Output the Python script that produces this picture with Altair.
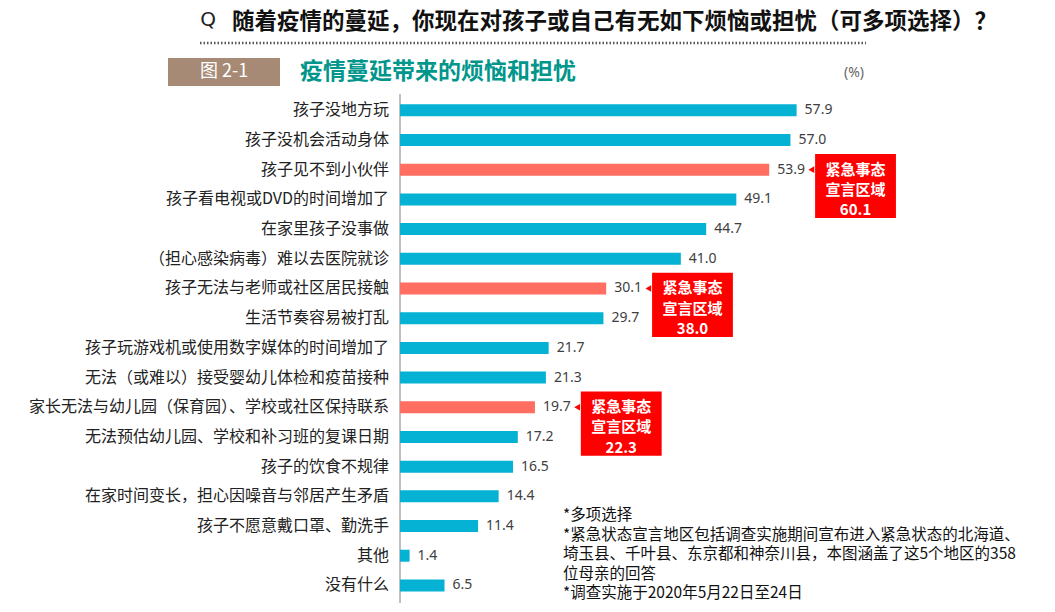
import altair as alt
import pandas as pd

# ---------------- data ----------------
categories = [
    "孩子没地方玩",
    "孩子没机会活动身体",
    "孩子见不到小伙伴",
    "孩子看电视或DVD的时间增加了",
    "在家里孩子没事做",
    "（担心感染病毒）难以去医院就诊",
    "孩子无法与老师或社区居民接触",
    "生活节奏容易被打乱",
    "孩子玩游戏机或使用数字媒体的时间增加了",
    "无法（或难以）接受婴幼儿体检和疫苗接种",
    "家长无法与幼儿园（保育园）、学校或社区保持联系",
    "无法预估幼儿园、学校和补习班的复课日期",
    "孩子的饮食不规律",
    "在家时间变长，担心因噪音与邻居产生矛盾",
    "孩子不愿意戴口罩、勤洗手",
    "其他",
    "没有什么",
]
values = [57.9, 57.0, 53.9, 49.1, 44.7, 41.0, 30.1, 29.7, 21.7, 21.3,
          19.7, 17.2, 16.5, 14.4, 11.4, 1.4, 6.5]

highlight_categories = [
    "孩子见不到小伙伴",
    "孩子无法与老师或社区居民接触",
    "家长无法与幼儿园（保育园）、学校或社区保持联系",
]
region_values = [60.1, 38.0, 22.3]
callout_lines = ["紧急事态", "宣言区域"]

title_q = "随着疫情的蔓延，你现在对孩子或自己有无如下烦恼或担忧（可多项选择）？"
fig_no = "图 2-1"
fig_title = "疫情蔓延带来的烦恼和担忧"
unit_label = "(%)"
notes = [
    "*多项选择",
    "*紧急状态宣言地区包括调查实施期间宣布进入紧急状态的北海道、",
    "埼玉县、千叶县、东京都和神奈川县，本图涵盖了这5个地区的358",
    "位母亲的回答",
    "*调查实施于2020年5月22日至24日",
]

# ---------------- layout constants ----------------
W, H = 1039, 595
PX_PER_UNIT = 6.85
X0 = 392                     # pixel of value 0
XMIN = -X0 / PX_PER_UNIT
XMAX = XMIN + W / PX_PER_UNIT
ROW_STEP = 30.2
Y0 = 99                      # pixel of first row
YMIN = -Y0 / ROW_STEP
YMAX = YMIN + H / ROW_STEP

BLUE = "#05B2D3"
SALMON = "#FF6E60"
RED = "#FF0000"
CJK = "Noto Sans CJK SC"

xs = alt.Scale(domain=[XMIN, XMAX], nice=False, zero=False)
ys = alt.Scale(domain=[YMIN, YMAX], nice=False, zero=False, reverse=True)

df = pd.DataFrame({
    "category": categories,
    "value": values,
    "row": list(range(len(categories))),
})
df["zero"] = 0.0
df["group"] = ["hl" if c in highlight_categories else "base" for c in categories]

bars = alt.Chart(df).mark_bar(orient="horizontal", size=12).encode(
    x=alt.X("value:Q", scale=xs, axis=None),
    y=alt.Y("row:Q", scale=ys, axis=None),
    color=alt.Color("group:N", scale=alt.Scale(domain=["base", "hl"], range=[BLUE, SALMON]), legend=None),
)

value_text = alt.Chart(df).mark_text(align="left", baseline="middle", dx=8, fontSize=14,
                                     font="Noto Sans", color="#404040").encode(
    x=alt.X("value:Q", scale=xs, axis=None), y=alt.Y("row:Q", scale=ys, axis=None),
    text=alt.Text("value:Q", format=".1f"),
)

cat_text = alt.Chart(df).mark_text(align="right", baseline="middle", dx=-11, fontSize=16,
                                   font=CJK, color="#222222").encode(
    x=alt.X("zero:Q", scale=xs, axis=None), y=alt.Y("row:Q", scale=ys, axis=None), text="category:N",
)

axis_df = pd.DataFrame({"x": [0.0], "y": [-0.55], "y2": [len(categories) - 0.3]})
axis_line = alt.Chart(axis_df).mark_rule(color="#808080", strokeWidth=1).encode(
    x=alt.X("x:Q", scale=xs, axis=None), y=alt.Y("y:Q", scale=ys, axis=None), y2="y2:Q",
)

# callouts
BOX_GAP = 6.7
BOX_W = 11.8
rows_hl = [categories.index(c) for c in highlight_categories]
cdf = pd.DataFrame({
    "row": rows_hl,
    "value": [values[r] for r in rows_hl],
    "region": region_values,
})
cdf["bx"] = cdf["value"] + BOX_GAP
cdf["bx2"] = cdf["bx"] + BOX_W
cdf["bc"] = cdf["bx"] + BOX_W / 2
cdf["by"] = cdf["row"] - 0.53
cdf["by2"] = cdf["row"] + 1.63
cdf["tx"] = cdf["bx"] - 0.55
cdf["l1"] = callout_lines[0]
cdf["l2"] = callout_lines[1]
cdf["l3"] = cdf["region"].map(lambda v: f"{v:.1f}")
cdf["r2"] = cdf["row"] + 0.68
cdf["r3"] = cdf["row"] + 1.36

boxes = alt.Chart(cdf).mark_rect(color=RED).encode(
    x=alt.X("bx:Q", scale=xs, axis=None), x2="bx2:Q",
    y=alt.Y("by:Q", scale=ys, axis=None), y2="by2:Q",
)
tris = alt.Chart(cdf).mark_point(shape="triangle-left", filled=True, size=45, color=RED, opacity=1).encode(
    x=alt.X("tx:Q", scale=xs, axis=None), y=alt.Y("row:Q", scale=ys, axis=None),
)
tstyle = dict(align="center", baseline="middle", fontSize=15, font=CJK, fontWeight="bold", color="white")
c1 = alt.Chart(cdf).mark_text(**tstyle).encode(
    x=alt.X("bc:Q", scale=xs, axis=None), y=alt.Y("row:Q", scale=ys, axis=None), text="l1:N")
c2 = alt.Chart(cdf).mark_text(**tstyle).encode(
    x=alt.X("bc:Q", scale=xs, axis=None), y=alt.Y("r2:Q", scale=ys, axis=None), text="l2:N")
c3 = alt.Chart(cdf).mark_text(**tstyle).encode(
    x=alt.X("bc:Q", scale=xs, axis=None), y=alt.Y("r3:Q", scale=ys, axis=None), text="l3:N")

# header decorations (fixed page furniture)
one = pd.DataFrame({"a": [0]})
q_icon = alt.Chart(one).mark_text(align="center", baseline="middle", fontSize=20, font="DejaVu Sans",
                                  color="#222", text="Q").encode(x=alt.value(200), y=alt.value(12))
q_title = alt.Chart(one).mark_text(align="left", baseline="middle", fontSize=22.5, font=CJK,
                                   fontWeight="bold", color="#111", text=title_q).encode(
    x=alt.value(224), y=alt.value(14))
dots = alt.Chart(one).mark_rule(color="#555", strokeWidth=2.5, strokeDash=[1.5, 2]).encode(
    x=alt.value(192), x2=alt.value(858), y=alt.value(35))
fig_box = alt.Chart(one).mark_rect(color="#A68A76").encode(
    x=alt.value(160), x2=alt.value(272), y=alt.value(50), y2=alt.value(78))
fig_box_t = alt.Chart(one).mark_text(align="center", baseline="middle", fontSize=18, font=CJK,
                                     color="white", text=fig_no).encode(x=alt.value(216), y=alt.value(64))
fig_t = alt.Chart(one).mark_text(align="left", baseline="middle", fontSize=23, font=CJK, fontWeight="bold",
                                 color="#00968C", text=fig_title).encode(x=alt.value(292), y=alt.value(64))
unit_t = alt.Chart(one).mark_text(align="left", baseline="middle", fontSize=14, font="Noto Sans",
                                  color="#666", text=unit_label).encode(x=alt.value(836), y=alt.value(65))
notes_t = alt.Chart(one).mark_text(align="left", baseline="top", fontSize=15.5, font=CJK,
                                   color="#111", lineHeight=19.5, text=notes).encode(
    x=alt.value(555), y=alt.value(500))

chart = alt.layer(
    axis_line, bars, value_text, cat_text, boxes, tris, c1, c2, c3,
    q_icon, q_title, dots, fig_box, fig_box_t, fig_t, unit_t, notes_t,
).properties(
    width=W, height=H, background="white", padding=0,
    autosize=alt.AutoSizeParams(type="none"),
).configure_view(stroke=None)

chart.save("out.html", embed_options={"renderer": "svg", "actions": False})
